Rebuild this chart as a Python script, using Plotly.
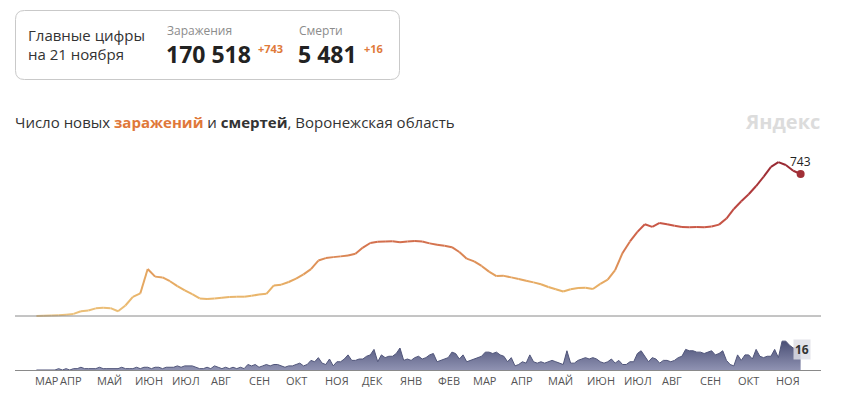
import plotly.graph_objects as go
import pandas as pd

W, H = 844, 403

# ---------------- data ----------------
# new cases, every 6 days from 2020-03-13 to 2021-11-21
case_start, case_end, case_step = "2020-03-13", "2021-11-21", "6D"
cases = [0, 1, 2, 4, 7, 11, 25, 29, 40, 43, 41, 25, 55, 100, 118, 246, 206, 202, 182, 156,
         134, 114, 92, 89, 92, 95, 100, 101, 101, 106, 112, 116, 160, 164, 178, 196, 218, 245, 290, 303,
         308, 312, 317, 326, 358, 382, 388, 390, 391, 386, 390, 392, 390, 380, 373, 367, 360, 335, 300, 286,
         262, 232, 209, 210, 202, 194, 184, 176, 166, 152, 140, 128, 140, 146, 148, 141, 168, 190, 240, 330,
         390, 440, 480, 466, 487, 480, 472, 466, 464, 465, 464, 468, 478, 510, 560, 600, 637, 680, 728, 780,
         805, 790, 760, 743]

# new deaths, every 3 days from 2020-03-13 to 2021-11-21
death_start, death_end, death_step = "2020-03-13", "2021-11-21", "3D"
deaths = [0, 0, 0, 0, 0, 0, 1, 0, 1, 0, 1, 1, 2, 1, 1, 1, 1, 2, 1, 1,
          1, 1, 1, 2, 1, 1, 1, 2, 1, 2, 2, 1, 2, 2, 1, 2, 2, 2, 3, 2,
          3, 3, 3, 2, 1, 1, 2, 1, 3, 2, 1, 2, 1, 2, 1, 2, 1, 4, 3, 4,
          2, 3, 4, 3, 4, 4, 3, 2, 3, 3, 4, 5, 3, 4, 7, 6, 9, 5, 4, 8,
          3, 6, 6, 8, 11, 7, 7, 8, 8, 10, 11, 15, 6, 11, 9, 10, 10, 12, 16, 7,
          8, 7, 9, 10, 8, 9, 11, 12, 6, 7, 8, 9, 13, 12, 8, 11, 6, 7, 8, 9,
          10, 13, 13, 12, 13, 11, 10, 6, 9, 3, 4, 6, 5, 11, 6, 5, 6, 5, 6, 7,
          6, 5, 4, 14, 5, 5, 7, 8, 9, 8, 9, 8, 6, 5, 6, 8, 5, 7, 4, 4,
          6, 6, 12, 14, 10, 6, 9, 8, 5, 7, 7, 6, 7, 9, 10, 15, 14, 14, 13, 13,
          12, 13, 14, 11, 12, 14, 7, 4, 3, 11, 7, 11, 11, 8, 15, 10, 9, 10, 10, 15,
          9, 21, 21, 18, 16, 16, 16]

month_labels = ["МАР", "АПР", "МАЙ", "ИЮН", "ИЮЛ", "АВГ", "СЕН", "ОКТ", "НОЯ", "ДЕК", "ЯНВ",
                "ФЕВ", "МАР", "АПР", "МАЙ", "ИЮН", "ИЮЛ", "АВГ", "СЕН", "ОКТ", "НОЯ"]
month_starts = ["2020-03-12", "2020-04-01", "2020-05-01", "2020-06-01", "2020-07-01", "2020-08-01",
                "2020-09-01", "2020-10-01", "2020-11-01", "2020-12-01", "2021-01-01", "2021-02-01",
                "2021-03-01", "2021-04-01", "2021-05-01", "2021-06-01", "2021-07-01", "2021-08-01",
                "2021-09-01", "2021-10-01", "2021-11-01"]

total_cases, new_cases = "170 518", "+743"
total_deaths, new_deaths = "5 481", "+16"
header_date = "на 21 ноября"

case_dates = pd.date_range(case_start, case_end, freq=case_step)
death_dates = pd.date_range(death_start, death_end, freq=death_step)

# ---------------- style helpers ----------------
FONT = "Open Sans"
X_RANGE = ["2020-02-24 16:30", "2021-12-07 11:15"]


def px_x(x):
    return x / W


def px_y(y):
    return 1 - y / H


stops = [(0, (236, 194, 124)), (150, (232, 176, 101)), (300, (220, 138, 85)),
         (450, (204, 92, 72)), (620, (180, 62, 62)), (800, (152, 40, 50))]


def case_color(v):
    for (v0, c0), (v1, c1) in zip(stops[:-1], stops[1:]):
        if v <= v1:
            t = max(0.0, (v - v0) / (v1 - v0))
            c = [round(a + (b - a) * t) for a, b in zip(c0, c1)]
            return "rgb(%d,%d,%d)" % tuple(c)
    return "rgb(%d,%d,%d)" % stops[-1][1]


fig = go.Figure()

# case line, coloured by height
for i in range(len(cases) - 1):
    fig.add_trace(go.Scatter(
        x=case_dates[i:i + 2], y=cases[i:i + 2], mode="lines",
        line=dict(color=case_color((cases[i] + cases[i + 1]) / 2), width=2),
        hoverinfo="skip", showlegend=False, xaxis="x", yaxis="y"))

fig.add_trace(go.Scatter(
    x=[case_dates[-1]], y=[cases[-1]], mode="markers",
    marker=dict(color=case_color(cases[-1]), size=8),
    showlegend=False, xaxis="x", yaxis="y"))

# deaths area
fig.add_trace(go.Scatter(
    x=death_dates, y=deaths, mode="lines", fill="tozeroy",
    line=dict(color="#50557a", width=1),
    fillgradient=dict(type="vertical", start=0, stop=20,
                      colorscale=[[0, "#8f92b2"], [1, "#4d5278"]]),
    showlegend=False, xaxis="x2", yaxis="y2"))

xdom = [px_x(15), px_x(821)]
ax_common = dict(visible=False, range=X_RANGE, type="date", domain=xdom, fixedrange=True)
fig.update_layout(
    width=W, height=H, margin=dict(l=0, r=0, t=0, b=0),
    paper_bgcolor="white", plot_bgcolor="rgba(0,0,0,0)",
    font=dict(family=FONT, color="#333"),
    xaxis=ax_common,
    xaxis2=dict(ax_common, anchor="y2"),
    yaxis=dict(visible=False, range=[-10.46, 868.5], domain=[px_y(318), px_y(150)], fixedrange=True),
    yaxis2=dict(visible=False, range=[0, 29.1], domain=[px_y(370), px_y(330)], fixedrange=True),
    showlegend=False,
)

# baselines
fig.add_shape(type="line", xref="paper", yref="y", x0=xdom[0], x1=xdom[1], y0=0, y1=0,
              line=dict(color="#8a8a8a", width=1))
fig.add_shape(type="line", xref="paper", yref="paper", x0=xdom[0], x1=xdom[1],
              y0=px_y(370.5), y1=px_y(370.5), line=dict(color="#8a8a8a", width=1))

# header box with rounded corners
x0, x1, y0, y1 = px_x(15.5), px_x(399.5), px_y(79.5), px_y(10.5)
rx, ry = 9 / W, 9 / H
path = (f"M {x0+rx},{y1} L {x1-rx},{y1} Q {x1},{y1} {x1},{y1-ry} L {x1},{y0+ry} "
        f"Q {x1},{y0} {x1-rx},{y0} L {x0+rx},{y0} Q {x0},{y0} {x0},{y0+ry} "
        f"L {x0},{y1-ry} Q {x0},{y1} {x0+rx},{y1} Z")
fig.add_shape(type="path", xref="paper", yref="paper", path=path,
              line=dict(color="#c9c9c9", width=1))


def text(x, y, s, size, color="#333", anchor="left", yanchor="middle", **kw):
    fig.add_annotation(x=px_x(x), y=px_y(y), xref="paper", yref="paper", text=s,
                       showarrow=False, xanchor=anchor, yanchor=yanchor,
                       font=dict(size=size, color=color, family=FONT), **kw)


text(26, 35, "Главные цифры", 15, "#333")
text(26, 54, header_date, 15, "#333")
text(165, 30, "Заражения", 12, "#8c8c8c")
text(164, 54, f"<b>{total_cases}</b>", 23, "#222")
text(256, 48, f"<b>{new_cases}</b>", 11, "#e07a3a")
text(297, 30, "Смерти", 12, "#8c8c8c")
text(296, 54, f"<b>{total_deaths}</b>", 23, "#222")
text(362, 48, f"<b>{new_deaths}</b>", 11, "#e07a3a")

text(13, 122, "Число новых <b><span style='color:#e0783a'>заражений</span></b> и <b>смертей</b>, "
              "Воронежская область", 15, "#333")
text(822, 122, "<b>Яндекс</b>", 20, "#dcdcdc", anchor="right")

# end labels
fig.add_annotation(x=case_dates[-1], y=cases[-1], xref="x", yref="y", text=str(cases[-1]),
                   showarrow=False, yshift=12, xanchor="center", yanchor="middle",
                   font=dict(size=12, color="#222", family=FONT))
fig.add_annotation(x=death_dates[-1], y=deaths[-1], xref="x2", yref="y2", text=f"<b>{deaths[-1]}</b>",
                   showarrow=False, xanchor="center", yanchor="middle", xshift=1, yshift=-1,
                   bgcolor="rgba(222,222,230,0.85)", borderpad=1,
                   font=dict(size=12, color="#333", family=FONT))

# month labels
for lab, d in zip(month_labels, month_starts):
    fig.add_annotation(x=d, y=px_y(380), xref="x2", yref="paper", text=lab, showarrow=False,
                       xanchor="left", yanchor="middle", xshift=-2,
                       font=dict(size=11, color="#555", family=FONT))

fig.write_html("out.html", config={"displayModeBar": False, "staticPlot": True},
               post_script="document.body.style.margin='0';")
